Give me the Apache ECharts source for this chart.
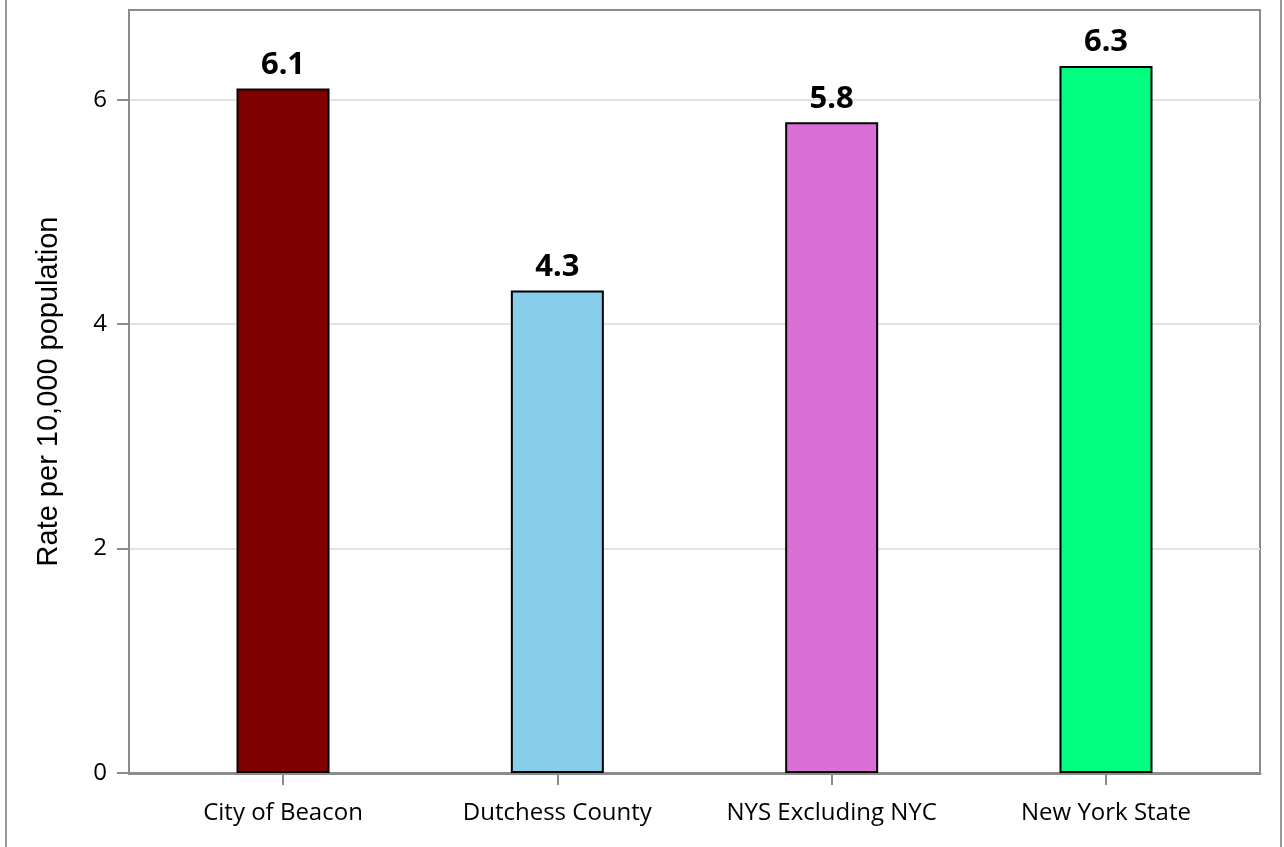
<!DOCTYPE html>
<html>
<head>
<meta charset="utf-8">
<script src="https://cdn.jsdelivr.net/npm/echarts@6/dist/echarts.min.js"></script>
<style>
html,body{margin:0;padding:0;background:#fff;}
#chart{width:1284px;height:847px;}
</style>
</head>
<body>
<div id="chart"></div>
<script>
const categories = ["City of Beacon", "Dutchess County", "NYS Excluding NYC", "New York State"];
const values = [6.1, 4.3, 5.8, 6.3];
const colors = ["#800000", "#87CEEB", "#DA70D6", "#00FF7F"];
const yTicks = [0, 2, 4, 6];
const yTitle = "Rate per 10,000 population";

const chart = echarts.init(document.getElementById('chart'), null, {renderer: 'canvas'});
const catIdx = categories.map((c, i) => i);
const option = {
  animation: false,
  graphic: [
    {type: 'line', shape: {x1: 6, y1: 0, x2: 6, y2: 847}, style: {stroke: '#999999', lineWidth: 2}},
    {type: 'line', shape: {x1: 1281, y1: 0, x2: 1281, y2: 847}, style: {stroke: '#999999', lineWidth: 2}}
  ],
  grid: {left: 129, right: 24, top: 10, bottom: 74, show: true, borderColor: '#8c8c8c', borderWidth: 2, backgroundColor: 'transparent'},
  xAxis: {
    type: 'value', min: -0.5614, max: 3.5614,
    splitLine: {show: false},
    axisLine: {show: true, onZero: false, lineStyle: {color: '#8c8c8c', width: 3}},
    axisTick: {show: true, customValues: catIdx, length: 12, lineStyle: {color: '#8c8c8c', width: 2}},
    axisLabel: {customValues: catIdx, formatter: v => categories[Math.round(v)], margin: 28,
      fontFamily: 'Open Sans', fontSize: 24, color: '#000'}
  },
  yAxis: {
    type: 'value', min: 0, max: 6.8, interval: 2,
    name: yTitle, nameLocation: 'middle', nameGap: 66,
    nameTextStyle: {fontFamily: 'Liberation Sans', fontSize: 29, color: '#000'},
    axisLine: {show: true, onZero: false, lineStyle: {color: '#8c8c8c', width: 2}},
    axisTick: {show: true, customValues: yTicks, length: 12, lineStyle: {color: '#8c8c8c', width: 2}},
    axisLabel: {customValues: yTicks, margin: 22, fontFamily: 'Open Sans', fontSize: 24, color: '#000'},
    splitLine: {show: true, lineStyle: {color: '#e3e3e3', width: 2}}
  },
  series: [{
    type: 'bar',
    barWidth: 93,
    data: values.map((v, i) => ({value: [i, v], itemStyle: {color: colors[i]}})),
    itemStyle: {borderColor: '#000', borderWidth: 2},
    label: {show: true, position: 'top', distance: 8, formatter: p => p.value[1].toFixed(1),
      fontFamily: 'Noto Sans', fontWeight: 'bold', fontSize: 31, color: '#000'}
  }]
};
chart.setOption(option);
</script>
</body>
</html>
